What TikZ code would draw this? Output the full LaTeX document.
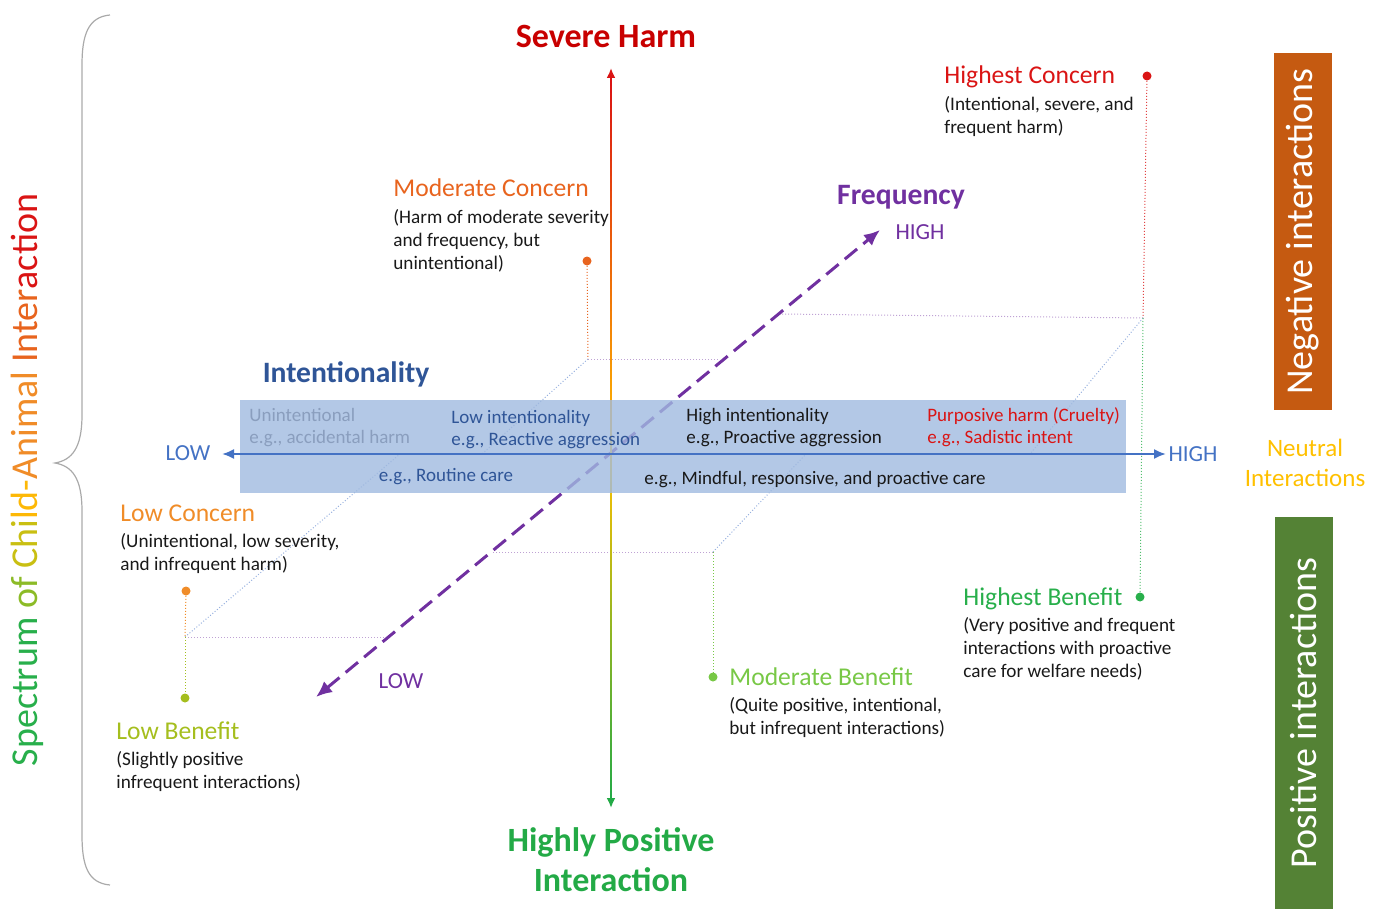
\documentclass[tikz,border=0pt]{standalone}
\usepackage{fontspec}
\setmainfont{Carlito}
\usetikzlibrary{arrows.meta,positioning,calc}
\definecolor{sevred}{RGB}{200,0,0}
\definecolor{hired}{RGB}{218,20,20}
\definecolor{modorange}{RGB}{232,100,30}
\definecolor{loworange}{RGB}{240,140,40}
\definecolor{lowgreen}{RGB}{165,190,30}
\definecolor{modgreen}{RGB}{120,200,70}
\definecolor{higreen}{RGB}{40,175,75}
\definecolor{posgreen}{RGB}{35,170,70}
\definecolor{neutyellow}{RGB}{255,192,0}
\definecolor{freqpurple}{RGB}{112,48,160}
\definecolor{axisblue}{RGB}{68,114,196}
\definecolor{intblue}{RGB}{47,85,151}
\definecolor{unintgrey}{RGB}{138,158,190}
\definecolor{bandblue}{RGB}{160,186,224}
\definecolor{negbrown}{RGB}{197,90,17}
\definecolor{posbox}{RGB}{84,130,53}
\definecolor{bracegrey}{RGB}{170,170,170}

\begin{document}
\begin{tikzpicture}[x=0.5pt,y=-0.5pt,
  every node/.style={inner sep=0pt},
  tit/.style={anchor=base west,font=\fontsize{12.8}{15}\selectfont},
  desc/.style={anchor=north west,align=left,font=\fontsize{9.6}{11.5}\selectfont,text=black!90},
  bandtxt/.style={anchor=west,align=left,font=\fontsize{9.5}{11}\selectfont},
  dot/.style={circle,fill=#1,minimum size=4.5pt},
  proj/.style={densely dotted,line width=0.5pt,draw=#1},
  axislab/.style={font=\fontsize{11.5}{13}\selectfont},
  bigtit/.style={font=\fontsize{17}{20}\selectfont\bfseries,align=center},
  sidebox/.style={rotate=90,minimum height=29pt,text=white,font=\fontsize{19}{21}\selectfont}
]
  \useasboundingbox (0,0) rectangle (1384,909);

  % brace and spectrum title
  \draw[bracegrey,line width=0.6pt] (110,15) .. controls (88,17) and (82,35) .. (82,65) -- (82,415)
    .. controls (82,448) and (72,460) .. (55,463) .. controls (72,466) and (82,478) .. (82,511)
    -- (82,835) .. controls (82,866) and (88,883) .. (110,885);
  \node[rotate=90,font=\fontsize{19}{21}\selectfont] (spec) at (27,480)
    {{\color{higreen}Spectrum} {\color{lowgreen!80!higreen}of} {\color{lowgreen!60!neutyellow}Chi}{\color{neutyellow!85!loworange}ld-}{\color{loworange}Animal} {\color{modorange}Inter}{\color{hired}action}};

  % axis ends and plane corners
  \coordinate (vtop) at (611,68);
  \coordinate (vbot) at (611,808);
  \coordinate (hlo) at (222,454);
  \coordinate (hhi) at (1166,454);
  \coordinate (flo) at (316,697);
  \coordinate (fhi) at (880,230);
  \coordinate (ca) at (588,359);
  \coordinate (cb) at (185,637);
  \coordinate (cc) at (713,552);
  \coordinate (cd) at (1143,318);
  \coordinate (ia) at (482,454);
  \coordinate (ib) at (400,454);
  \coordinate (ic) at (806,454);
  \coordinate (id) at (1030,454);
  \coordinate (fa) at (720,359);
  \coordinate (fb) at (388,637);
  \coordinate (fc) at (491,552);
  \coordinate (fd) at (780,314);

  % corner dots
  \node[dot=modorange] (mcd) at (587,261) {};
  \node[dot=loworange] (lcd) at (186,591) {};
  \node[dot=lowgreen] (lbd) at (185,698) {};
  \node[dot=hired] (hcd) at (1147,76) {};
  \node[dot=higreen] (hbd) at (1140,597) {};
  \node[dot=modgreen] (mbd) at (713,677) {};

  % projection lines
  \draw[proj=freqpurple!45] (ca) -- (fa);
  \draw[proj=freqpurple!45] (cb) -- (fb);
  \draw[proj=freqpurple!45] (cc) -- (fc);
  \draw[proj=freqpurple!45] (cd) -- (fd);
  \draw[proj=axisblue!55] (ca) -- (ia);
  \draw[proj=axisblue!55] (cb) -- (ib);
  \draw[proj=axisblue!55] (cc) -- (ic);
  \draw[proj=axisblue!55] (cd) -- (id);
  \draw[proj=modorange] (mcd) -- (ca);
  \draw[proj=loworange] (lcd) -- (cb);
  \draw[proj=lowgreen] (cb) -- (lbd);
  \draw[proj=hired!80] (hcd) -- (cd);
  \draw[proj=higreen!80] (cd) -- (hbd);
  \draw[proj=modgreen] (cc) -- (mbd);

  % frequency and severity axes
  \draw[freqpurple,line width=1.5pt,dash pattern=on 8pt off 4pt,
    {Latex[length=8pt,width=7pt]}-{Latex[length=8pt,width=7pt]}] (flo) -- (fhi);
  \foreach \i [evaluate=\i as \ya using 78+\i*7.52,
               evaluate=\i as \yb using 78.4+(\i+1)*7.52,
               evaluate=\i as \p using int(\i*2)] in {0,...,49}
    \draw[line width=1.2pt,neutyellow!\p!hired] (611,\ya) -- (611,\yb);
  \foreach \i [evaluate=\i as \ya using 454+\i*6.88,
               evaluate=\i as \yb using 454.4+(\i+1)*6.88,
               evaluate=\i as \p using int(\i*2)] in {0,...,49}
    \draw[line width=1.2pt,posgreen!\p!neutyellow] (611,\ya) -- (611,\yb);
  \draw[hired,line width=1.2pt,-{Latex[length=5pt,width=4.5pt]}] ($(vtop)+(0,14)$) -- (vtop);
  \draw[posgreen,line width=1.2pt,-{Latex[length=5pt,width=4.5pt]}] ($(vbot)+(0,-14)$) -- (vbot);

  % intentionality band
  \node[fill=bandblue,fill opacity=0.8,minimum width=443pt,minimum height=46.5pt] (band) at (683,446.5) {};
  \draw[axisblue,line width=1pt,{Latex[length=6pt,width=5pt]}-{Latex[length=6pt,width=5pt]}] (hlo) -- (hhi);

  \node[bandtxt,text=unintgrey] (unint) at (249,428) {Unintentional\\e.g., accidental harm};
  \node[bandtxt,text=intblue] (lowint) at (451,430) {Low intentionality\\e.g., Reactive aggression};
  \node[bandtxt,text=black!90] (highint) at (686,428) {High intentionality\\e.g., Proactive aggression};
  \node[bandtxt,text=hired] (cruel) at (927,427) {Purposive harm (Cruelty)\\e.g., Sadistic intent};
  \node[bandtxt,anchor=center,text=intblue] (routine) at (446,477) {e.g., Routine care};
  \node[bandtxt,text=black!90] (mindful) at (644,480) {e.g., Mindful, responsive, and proactive care};

  % axis labels
  \node[bigtit,text=sevred] (severe) at (606,36) {Severe Harm};
  \node[bigtit,text=posgreen] (positive) at (611,860) {Highly Positive\\Interaction};
  \node[font=\fontsize{14.8}{16}\selectfont\bfseries,text=intblue] (intent) at (346,374) {Intentionality};
  \node[font=\fontsize{14.8}{16}\selectfont\bfseries,text=freqpurple] (freq) at (901,197) {Frequency};
  \node[axislab,text=freqpurple] (fhigh) at (920,232) {HIGH};
  \node[axislab,text=freqpurple] (flow) at (401,681) {LOW};
  \node[axislab,text=axisblue] (hlow) at (188,453) {LOW};
  \node[axislab,text=axisblue] (hhigh) at (1193,454) {HIGH};

  % corner labels
  \node[tit,text=modorange] (mc) at (393,197) {Moderate Concern};
  \node[desc] (mcdesc) at ([yshift=-6pt]mc.base west) {(Harm of moderate severity\\and frequency, but\\unintentional)};
  \node[tit,text=hired] (hc) at (944,84) {Highest Concern};
  \node[desc] (hcdesc) at ([yshift=-6pt]hc.base west) {(Intentional, severe, and\\frequent harm)};
  \node[tit,text=loworange] (lc) at (120,521) {Low Concern};
  \node[desc] (lcdesc) at ([yshift=-6pt]lc.base west) {(Unintentional, low severity,\\and infrequent harm)};
  \node[tit,text=lowgreen] (lb) at (116,739) {Low Benefit};
  \node[desc] (lbdesc) at ([yshift=-6pt]lb.base west) {(Slightly positive\\infrequent interactions)};
  \node[tit,text=higreen] (hb) at (963,605) {Highest Benefit};
  \node[desc] (hbdesc) at ([yshift=-6pt]hb.base west) {(Very positive and frequent\\interactions with proactive\\care for welfare needs)};
  \node[tit,text=modgreen] (mb) at (729,685) {Moderate Benefit};
  \node[desc] (mbdesc) at ([yshift=-6pt]mb.base west) {(Quite positive, intentional,\\but infrequent interactions)};

  % side boxes
  \node[sidebox,fill=negbrown,minimum width=178.5pt] (neg) at (1303,231.5) {Negative interactions};
  \node[sidebox,fill=posbox,minimum width=196pt] (pos) at (1303.5,713) {Positive interactions};
  \node[font=\fontsize{12.5}{15}\selectfont,text=neutyellow,align=center] (neut) at (1305,463) {Neutral\\Interactions};
\end{tikzpicture}
\end{document}
